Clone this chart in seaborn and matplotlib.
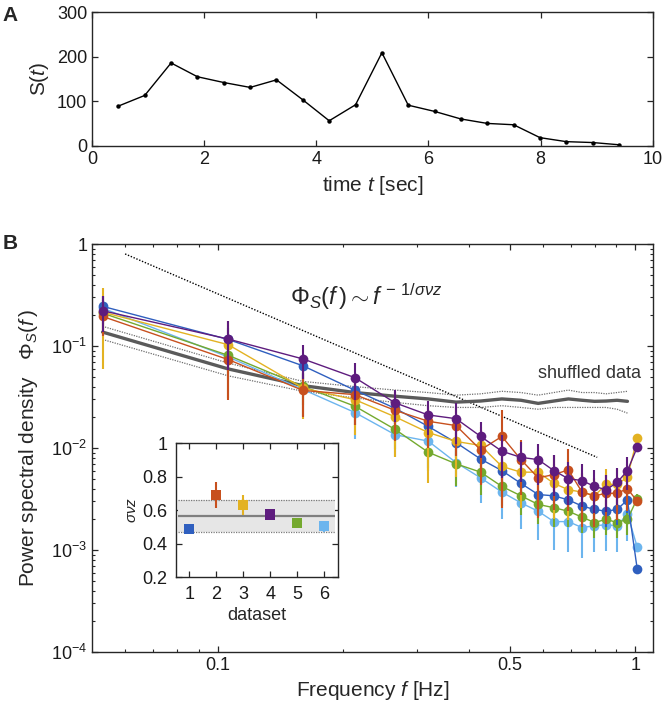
import matplotlib
matplotlib.use('Agg')
import matplotlib.pyplot as plt
import seaborn as sns
from matplotlib.ticker import FixedLocator, FixedFormatter, NullFormatter

# ---- panel A: S(t) time series ----
time_s = [0.47, 0.94, 1.41, 1.88, 2.35, 2.82, 3.29, 3.76, 4.23, 4.70,
          5.17, 5.64, 6.11, 6.58, 7.05, 7.52, 7.99, 8.46, 8.93, 9.40]
size_S = [89, 113, 186, 155, 142, 131, 148, 103, 56, 92,
          209, 91, 77, 60, 50, 47, 18, 9, 7, 2]

# ---- panel B: power spectra of six datasets ----
freq = [0.053, 0.106, 0.160, 0.213, 0.266, 0.319, 0.372, 0.426, 0.479, 0.532,
        0.585, 0.638, 0.691, 0.745, 0.798, 0.851, 0.904, 0.957, 1.010]

psd_1 = [0.245, 0.116, 0.064, 0.0369, 0.0245, 0.0163, 0.0113, 0.0078, 0.0060, 0.0045,
         0.0035, 0.0034, 0.0031, 0.0027, 0.0025, 0.0024, 0.0025, 0.0031, 0.00065]
psd_2 = [0.195, 0.0736, 0.0367, 0.0334, 0.0234, 0.0183, 0.0166, 0.0096, 0.0130, 0.0077,
         0.0051, 0.0055, 0.0061, 0.0037, 0.0034, 0.0036, 0.0036, 0.0040, 0.0030]
psd_3 = [0.215, 0.103, 0.0387, 0.0298, 0.0202, 0.0142, 0.0116, 0.0106, 0.0066, 0.0058,
         0.0058, 0.0045, 0.0039, 0.0037, 0.0034, 0.0044, 0.0044, 0.0052, 0.0125]
psd_4 = [0.222, 0.117, 0.0747, 0.049, 0.0277, 0.0211, 0.0194, 0.0130, 0.0093, 0.0081,
         0.0077, 0.0060, 0.0050, 0.0048, 0.0042, 0.0039, 0.0046, 0.0060, 0.0102]
psd_5 = [0.210, 0.081, 0.0402, 0.0257, 0.0152, 0.0091, 0.0070, 0.0058, 0.0042, 0.0034,
         0.0028, 0.0026, 0.0024, 0.0021, 0.00186, 0.0020, 0.00186, 0.0020, 0.0032]
psd_6 = [0.235, 0.078, 0.0375, 0.0223, 0.0135, 0.0117, 0.0072, 0.0051, 0.0037, 0.0029,
         0.0024, 0.0019, 0.0019, 0.00166, 0.00173, 0.00177, 0.00173, 0.00225, 0.00107]

# relative error bar half-widths
rel_err_1 = [0.25, 0.3, 0.3, 0.3, 0.3, 0.3, 0.3, 0.3, 0.3, 0.3,
             0.3, 0.3, 0.3, 0.3, 0.3, 0.3, 0.3, 0.25, 0.1]
rel_err_2 = [0.35, 0.6, 0.45, 0.5, 0.5, 0.45, 0.5, 0.55, 0.8, 0.55,
             0.6, 0.55, 0.6, 0.55, 0.5, 0.5, 0.45, 0.4, 0.1]
rel_err_3 = [0.72, 0.7, 0.5, 0.55, 0.6, 0.68, 0.55, 0.5, 0.5, 0.55,
             0.5, 0.55, 0.5, 0.5, 0.45, 0.4, 0.4, 0.35, 0.1]
rel_err_4 = [0.38, 0.5, 0.36, 0.4, 0.35, 0.36, 0.44, 0.38, 0.45, 0.43,
             0.43, 0.43, 0.45, 0.45, 0.45, 0.4, 0.4, 0.35, 0.1]
rel_err_5 = [0.35, 0.35, 0.35, 0.35, 0.35, 0.35, 0.4, 0.4, 0.35, 0.35,
             0.35, 0.35, 0.3, 0.3, 0.3, 0.3, 0.3, 0.3, 0.1]
rel_err_6 = [0.3, 0.4, 0.45, 0.45, 0.4, 0.45, 0.43, 0.43, 0.45, 0.45,
             0.48, 0.47, 0.5, 0.5, 0.45, 0.45, 0.45, 0.45, 0.1]

# shuffled data (mean and band), first 18 frequencies
shuf_mean = [0.137, 0.0596, 0.0409, 0.0350, 0.0322, 0.0303, 0.0282, 0.0289, 0.0303,
             0.0294, 0.0274, 0.0289, 0.0303, 0.0294, 0.0287, 0.0289, 0.0294, 0.0287]
shuf_hi = [0.156, 0.068, 0.045, 0.040, 0.037, 0.035, 0.033, 0.034, 0.036,
           0.035, 0.033, 0.035, 0.037, 0.035, 0.035, 0.034, 0.035, 0.036]
shuf_lo = [0.116, 0.051, 0.036, 0.031, 0.028, 0.026, 0.025, 0.025, 0.026,
           0.025, 0.024, 0.025, 0.025, 0.025, 0.025, 0.025, 0.024, 0.022]

# power-law guide line end points
fit_f = [0.06, 0.81]
fit_psd = [0.80, 0.0081]

# ---- inset: exponent per dataset ----
datasets = [1, 2, 3, 4, 5, 6]
sigma_nu_z = [0.49, 0.69, 0.63, 0.575, 0.525, 0.505]
sigma_nu_z_err = [0.012, 0.077, 0.06, 0.028, 0.02, 0.033]
snz_mean = 0.568
snz_lo, snz_hi = 0.473, 0.664

colors = {1: '#2f5fbf', 2: '#c7501e', 3: '#e3b222', 4: '#5e1c7e', 5: '#74a92e', 6: '#6cb5ee'}
psd_all = {1: psd_1, 2: psd_2, 3: psd_3, 4: psd_4, 5: psd_5, 6: psd_6}
err_all = {1: rel_err_1, 2: rel_err_2, 3: rel_err_3, 4: rel_err_4, 5: rel_err_5, 6: rel_err_6}
draw_order = [6, 5, 1, 3, 2, 4]

sns.set_style('white')
plt.rcParams['font.family'] = ['Liberation Sans', 'DejaVu Sans']
plt.rcParams['mathtext.fontset'] = 'custom'
plt.rcParams['mathtext.rm'] = 'Liberation Sans'
plt.rcParams['mathtext.it'] = 'Liberation Sans:italic'
plt.rcParams['mathtext.bf'] = 'Liberation Sans:bold'
axis_col = '#262626'


def matlab_box(ax, lw=1.0):
    for sp in ax.spines.values():
        sp.set_visible(True)
        sp.set_color(axis_col)
        sp.set_linewidth(lw)
    ax.tick_params(which='both', direction='in', top=True, right=True,
                   bottom=True, left=True, color=axis_col, labelcolor='#1a1a1a')
    ax.tick_params(which='major', length=4.5, width=0.9)
    ax.tick_params(which='minor', length=2.4, width=0.8)


fig = plt.figure(figsize=(6.64, 7.14), dpi=100)

# ---------------- panel A ----------------
axA = fig.add_axes([0.1386, 0.796, 0.8444, 0.1868])
sns.lineplot(x=time_s, y=size_S, ax=axA, color='black', lw=1.0,
             marker='o', markersize=3.2, markeredgewidth=0)
axA.set_xlim(0, 10)
axA.set_ylim(0, 300)
axA.set_xticks([0, 2, 4, 6, 8, 10])
axA.set_yticks([0, 100, 200, 300])
matlab_box(axA)
axA.tick_params(labelsize=13)
axA.set_xlabel('time $t$ [sec]', fontsize=15, labelpad=5)
axA.set_ylabel('S($t$)', fontsize=15, labelpad=4)

# ---------------- panel B ----------------
axB = fig.add_axes([0.1386, 0.0868, 0.8444, 0.5714])
axB.set_xscale('log')
axB.set_yscale('log')

sns.lineplot(x=fit_f, y=fit_psd, ax=axB, color='black', lw=1.0, linestyle=(0, (1, 1.2)))
sns.lineplot(x=freq[:18], y=shuf_hi, ax=axB, color='#6e6e6e', lw=0.9, linestyle=(0, (1, 1)))
sns.lineplot(x=freq[:18], y=shuf_lo, ax=axB, color='#6e6e6e', lw=0.9, linestyle=(0, (1, 1)))
sns.lineplot(x=freq[:18], y=shuf_mean, ax=axB, color='#5a5a5a', lw=2.4)

for z, d in enumerate(draw_order):
    y = psd_all[d]
    err = [v * r for v, r in zip(y, err_all[d])]
    axB.errorbar(freq, y, yerr=err, fmt='none', ecolor=colors[d], elinewidth=1.5,
                 capsize=0, zorder=3 + 2 * z)
    sns.lineplot(x=freq, y=y, ax=axB, color=colors[d], lw=1.0, marker='o',
                 markersize=7, markeredgewidth=0, zorder=4 + 2 * z)

axB.set_xlim(0.05, 1.1)
axB.set_ylim(1e-4, 1)
axB.xaxis.set_major_locator(FixedLocator([0.1, 0.5, 1]))
axB.xaxis.set_major_formatter(FixedFormatter(['0.1', '0.5', '1']))
axB.xaxis.set_minor_locator(FixedLocator([0.06, 0.07, 0.08, 0.09, 0.2, 0.3, 0.4,
                                          0.6, 0.7, 0.8, 0.9]))
axB.xaxis.set_minor_formatter(NullFormatter())
axB.yaxis.set_major_locator(FixedLocator([1e-4, 1e-3, 1e-2, 1e-1, 1]))
axB.yaxis.set_major_formatter(FixedFormatter(['$10^{-4}$', '$10^{-3}$', '$10^{-2}$',
                                              '$10^{-1}$', '1']))
matlab_box(axB)
axB.tick_params(labelsize=13)
axB.set_xlabel('Frequency $f$ [Hz]', fontsize=15, labelpad=4)
axB.set_ylabel(r'Power spectral density   $\Phi_{S}(f\,)$', fontsize=15, labelpad=8)

axB.text(0.149, 0.30, r'$\Phi_{S}(f\,)\sim f^{\,-\,1/\sigma\nu z}$', fontsize=17,
         ha='left', va='center')
axB.text(0.585, 0.0536, 'shuffled data', fontsize=13, ha='left', va='center',
         color='#333333')

# ---------------- inset ----------------
axI = fig.add_axes([0.2646, 0.1915, 0.244, 0.1877])
axI.set_facecolor('white')
axI.fill_between([0.6, 6.4], snz_lo, snz_hi, color='#e6e6e6', lw=0)
axI.hlines([snz_lo, snz_hi], 0.6, 6.4, colors='#7a7a7a', lw=0.9, linestyles=(0, (1, 1)))
axI.hlines(snz_mean, 0.6, 6.4, colors='#7f7f7f', lw=1.6)
for d, v, e in zip(datasets, sigma_nu_z, sigma_nu_z_err):
    axI.errorbar(d, v, yerr=e, fmt='none', ecolor=colors[d], elinewidth=1.5, capsize=0, zorder=3)
sns.scatterplot(x=datasets, y=sigma_nu_z, hue=datasets, palette=colors, marker='s',
                s=55, linewidth=0, legend=False, ax=axI, zorder=4)
axI.set_xlim(0.5, 6.5)
axI.set_ylim(0.2, 1)
axI.set_xticks(datasets)
axI.set_yticks([0.2, 0.4, 0.6, 0.8, 1])
axI.set_yticklabels(['0.2', '0.4', '0.6', '0.8', '1'])
matlab_box(axI)
axI.tick_params(labelsize=13, pad=6)
axI.set_xlabel('dataset', fontsize=13, labelpad=3)
axI.set_ylabel(r'$\sigma\nu z$', fontsize=11, labelpad=2)

fig.text(0.004, 0.991, 'A', fontsize=15, fontweight='bold', va='top', ha='left')
fig.text(0.004, 0.672, 'B', fontsize=15, fontweight='bold', va='top', ha='left')

fig.savefig('out.png', dpi=100)
